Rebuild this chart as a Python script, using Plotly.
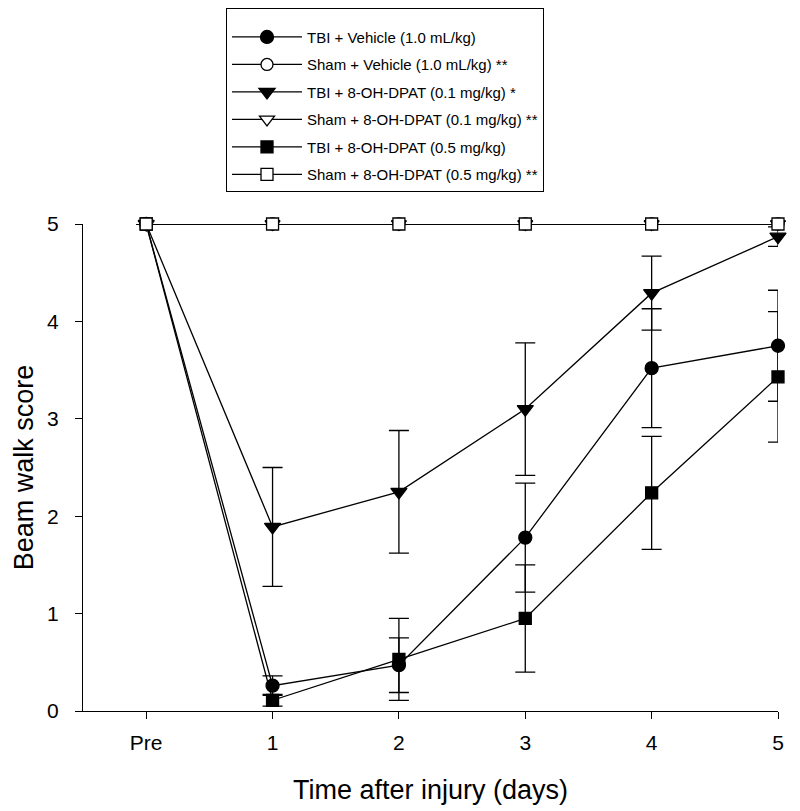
import plotly.graph_objects as go

# ---- data ----
day_labels = ["Pre", "1", "2", "3", "4", "5"]
day_pos = [0, 1, 2, 3, 4, 5]
score_ticks = [0, 1, 2, 3, 4, 5]

tbi_vehicle = [5.0, 0.26, 0.47, 1.78, 3.52, 3.75]
tbi_vehicle_err = [0.0, 0.10, 0.28, 0.56, 0.61, 0.57]

sham_vehicle = [5.0, 5.0, 5.0, 5.0, 5.0, 5.0]
sham_vehicle_err = [0.0, 0.0, 0.0, 0.0, 0.0, 0.0]

tbi_dpat01 = [5.0, 1.89, 2.25, 3.10, 4.29, 4.87]
tbi_dpat01_err = [0.0, 0.61, 0.63, 0.68, 0.38, 0.10]

sham_dpat01 = [5.0, 5.0, 5.0, 5.0, 5.0, 5.0]
sham_dpat01_err = [0.0, 0.0, 0.0, 0.0, 0.0, 0.0]

tbi_dpat05 = [5.0, 0.11, 0.53, 0.95, 2.24, 3.43]
tbi_dpat05_err = [0.0, 0.06, 0.42, 0.55, 0.58, 0.67]

sham_dpat05 = [5.0, 5.0, 5.0, 5.0, 5.0, 5.0]
sham_dpat05_err = [0.0, 0.0, 0.0, 0.0, 0.0, 0.0]

series = [
    ("TBI + Vehicle (1.0 mL/kg)", tbi_vehicle, tbi_vehicle_err, "circle", "black", 13),
    ("Sham + Vehicle (1.0 mL/kg) **", sham_vehicle, sham_vehicle_err, "circle", "white", 12),
    ("TBI + 8-OH-DPAT (0.1 mg/kg) *", tbi_dpat01, tbi_dpat01_err, "triangle-down", "black", 14),
    ("Sham + 8-OH-DPAT (0.1 mg/kg) **", sham_dpat01, sham_dpat01_err, "triangle-down", "white", 13),
    ("TBI + 8-OH-DPAT (0.5 mg/kg)", tbi_dpat05, tbi_dpat05_err, "square", "black", 12),
    ("Sham + 8-OH-DPAT (0.5 mg/kg) **", sham_dpat05, sham_dpat05_err, "square", "white", 12),
]

FONT = "Liberation Sans, Arial, sans-serif"

fig = go.Figure()
for i, (name, vals, errs, sym, fill, size) in enumerate(series):
    fig.add_trace(go.Scatter(
        x=day_pos, y=vals, name=name, mode="lines+markers",
        legendgroup=f"g{i}",
        line=dict(color="black", width=1.3),
        marker=dict(symbol=sym, size=size, color=fill,
                    line=dict(color="black", width=1.3)),
        error_y=dict(type="data", array=errs, visible=any(e > 0 for e in errs),
                     color="black", thickness=1.3, width=10),
        cliponaxis=False,
    ))

# page body has an 8px margin, so the figure is shrunk/shifted to compensate
W, H = 792, 803
ML, MR, MT, MB = 75, 22, 216, 100
PW, PH = W - ML - MR, H - MT - MB
fig.update_layout(
    width=W, height=H,
    margin=dict(l=ML, r=MR, t=MT, b=MB, autoexpand=False),
    paper_bgcolor="white", plot_bgcolor="white",
    font=dict(family=FONT, color="black"),
    showlegend=True,
    legend=dict(
        x=(218 - ML) / PW, y=1 + MT / PH, xanchor="left", yanchor="top",
        bordercolor="black", borderwidth=1, bgcolor="white",
        font=dict(size=15, family=FONT, color="black"),
        title=dict(text=" ", font=dict(size=9)),
        tracegroupgap=5, itemwidth=70,
    ),
    xaxis=dict(
        range=[-0.5, 5], tickmode="array", tickvals=day_pos, ticktext=day_labels,
        showline=True, linecolor="black", linewidth=1.3,
        ticks="outside", ticklen=7, tickwidth=1.3, tickcolor="black",
        showgrid=False, zeroline=False, ticklabelstandoff=6,
        tickfont=dict(size=21, family=FONT),
        title=dict(text="Time after injury (days)", font=dict(size=27, family=FONT), standoff=26),
    ),
    yaxis=dict(
        range=[0, 5], tickmode="array", tickvals=score_ticks,
        showline=True, linecolor="black", linewidth=1.3,
        ticks="outside", ticklen=7, tickwidth=1.3, tickcolor="black",
        showgrid=False, zeroline=False, ticklabelstandoff=12,
        tickfont=dict(size=21, family=FONT),
        title=dict(text="Beam walk score", font=dict(size=27, family=FONT), standoff=5),
    ),
)

fig.write_html("out.html")
